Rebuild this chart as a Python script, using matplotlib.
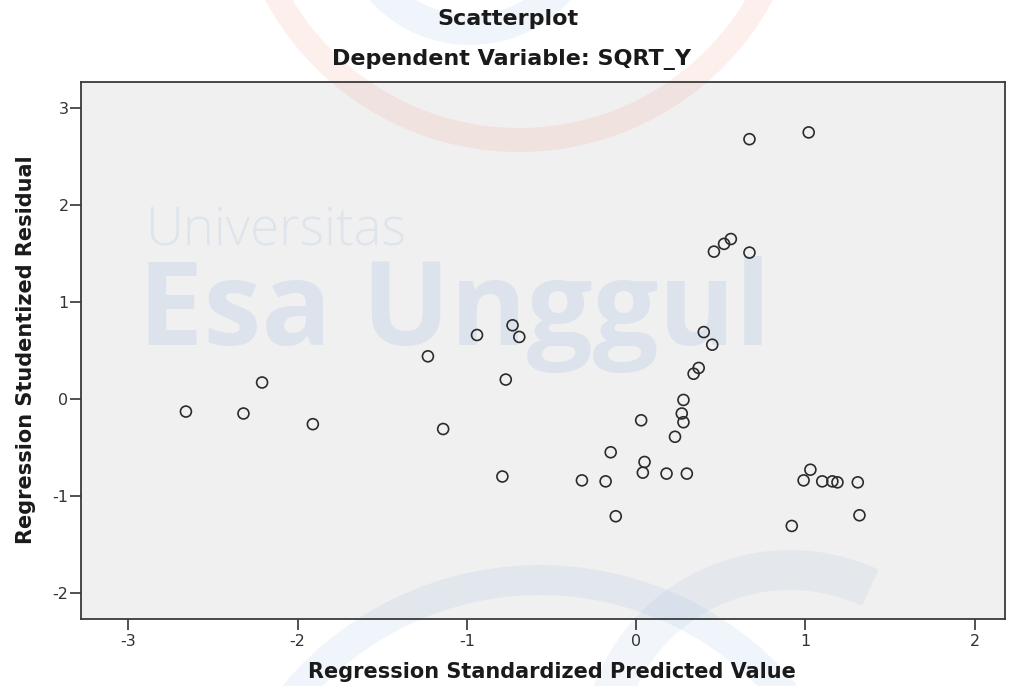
import matplotlib
matplotlib.use("Agg")
import matplotlib.pyplot as plt
from matplotlib.patches import Arc
from matplotlib.transforms import IdentityTransform

plt.rcParams["axes.unicode_minus"] = False

# SPSS residual scatterplot
pred = [-2.66, -2.32, -2.21, -1.91, -1.23, -1.14, -0.94, -0.79, -0.77, -0.73,
        -0.69, -0.32, -0.18, -0.15, -0.12, 0.03, 0.04, 0.05, 0.18, 0.23,
        0.27, 0.28, 0.28, 0.30, 0.34, 0.37, 0.40, 0.45, 0.46, 0.52,
        0.56, 0.67, 0.67, 0.92, 0.99, 1.02, 1.03, 1.10, 1.16, 1.19,
        1.31, 1.32]
resid = [-0.13, -0.15, 0.17, -0.26, 0.44, -0.31, 0.66, -0.80, 0.20, 0.76,
         0.64, -0.84, -0.85, -0.55, -1.21, -0.22, -0.76, -0.65, -0.77, -0.39,
         -0.15, -0.01, -0.24, -0.77, 0.26, 0.32, 0.69, 0.56, 1.52, 1.60,
         1.65, 2.68, 1.51, -1.31, -0.84, 2.75, -0.73, -0.85, -0.85, -0.86,
         -0.86, -1.20]

x_ticks = [-3, -2, -1, 0, 1, 2]
y_ticks = [-2, -1, 0, 1, 2, 3]

W, H = 1016, 686
fig = plt.figure(figsize=(W / 100, H / 100), dpi=100)
fig.patch.set_facecolor("white")

# plot box in pixels: left 81, right 1005, top 82, bottom 619
ax = fig.add_axes([81 / W, 1 - 619 / H, (1005 - 81) / W, (619 - 82) / H])
ax.set_facecolor("#f0f0f0")

# faint watermark (university logo + name)
wm_blue = "#5b8fd6"
wm_orange = "#f08060"
ident = IdentityTransform()

def ring(cx, cy_top, r, t1, t2, width_px, color, alpha):
    a = Arc((cx, H - cy_top), 2 * r, 2 * r, theta1=t1, theta2=t2,
            transform=ident, color=color, alpha=alpha,
            lw=width_px * 0.72, clip_on=False, zorder=0.5)
    ax.add_patch(a)

ring(519, -136, 276, 195, 345, 24, wm_orange, 0.12)
ring(470, -90, 120, 180, 360, 30, wm_blue, 0.09)
ring(540, 900, 320, 40, 150, 30, wm_blue, 0.09)
ring(790, 760, 190, 65, 200, 40, wm_blue, 0.08)

ax.text(145 / W, 1 - 245 / H, "Universitas", transform=fig.transFigure,
        fontsize=38, family="Open Sans", fontweight="light", color=wm_blue,
        alpha=0.12, ha="left", va="baseline", zorder=0.5)
ax.text(138 / W, 1 - 345 / H, "Esa Unggul", transform=fig.transFigure,
        fontsize=84, family="Open Sans", fontweight="bold", color=wm_blue,
        alpha=0.13, ha="left", va="baseline", zorder=0.5)

ax.scatter(pred, resid, s=62, facecolors="none", edgecolors="#2b2b2b",
           linewidths=1.2, zorder=3)

ax.set_xlim(-3.28, 2.18)
ax.set_ylim(-2.27, 3.27)
ax.set_xticks(x_ticks)
ax.set_yticks(y_ticks)
ax.tick_params(axis="both", direction="out", length=8, width=1.2,
               colors="#333333", labelsize=11.5)
ax.tick_params(axis="y", pad=1)
ax.tick_params(axis="x", pad=3)
for side in ["top", "right", "bottom", "left"]:
    ax.spines[side].set_color("#3a3a3a")
    ax.spines[side].set_linewidth(1.3)

# titles and axis labels in figure pixels
fig.text(508 / W, 1 - 19 / H, "Scatterplot", ha="center", va="center",
         fontsize=16, fontweight="bold", color="#1a1a1a")
fig.text(511 / W, 1 - 60 / H, "Dependent Variable: SQRT_Y", ha="center",
         va="center", fontsize=16, fontweight="bold", color="#1a1a1a")
fig.text(552 / W, 1 - 672 / H, "Regression Standardized Predicted Value",
         ha="center", va="center", fontsize=15, fontweight="bold",
         color="#1a1a1a")
fig.text(26 / W, 1 - 350 / H, "Regression Studentized Residual",
         ha="center", va="center", rotation=90, fontsize=15,
         fontweight="bold", color="#1a1a1a")

fig.savefig("out.png", dpi=100, facecolor="white")
